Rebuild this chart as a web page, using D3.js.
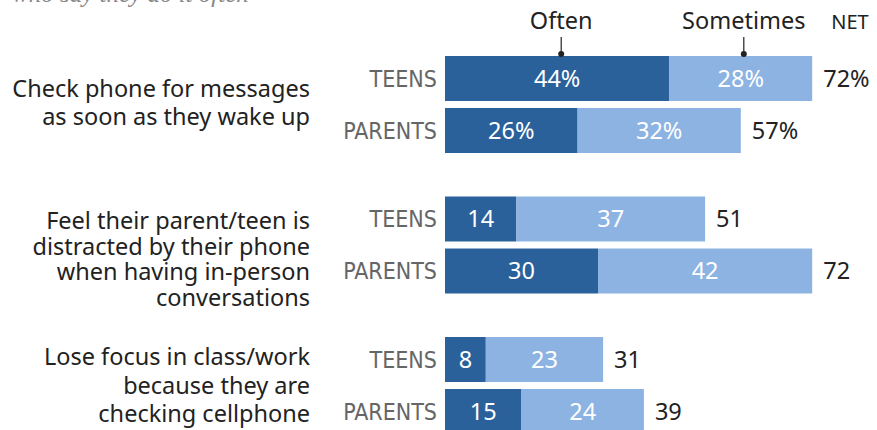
<!DOCTYPE html>
<html>
<head>
<meta charset="utf-8">
<script src="https://cdn.jsdelivr.net/npm/d3@7"></script>
<style>
  body { margin: 0; background: white; }
  svg text { font-family: "Noto Sans", "Liberation Sans", Arial, sans-serif; }
</style>
</head>
<body>
<div id="chart"></div>
<script>

    // Data
    var groups = ["wake", "distracted", "focus"];
    var labelLines = [
      ["Check phone for messages", "as soon as they wake up"],
      ["Feel their parent/teen is", "distracted by their phone", "when having in-person", "conversations"],
      ["Lose focus in class/work", "because they are", "checking cellphone"]
    ];
    var respondents = ["TEENS", "PARENTS"];
    var often = [[44, 26], [14, 30], [8, 15]];
    var sometimes = [[28, 32], [37, 42], [23, 24]];
    var net = [[72, 57], [51, 72], [31, 39]];
    var headers = ["Often", "Sometimes", "NET"];

    //Color Palette
    var darkBlue = "#2a619b";
    var lightBlue = "#8cb3e2";
    var greyText = "#666666";
    var darkText = "#222222";

    const width = 877, height = 430;

    const svg = d3.select("#chart")
      .append("svg")
      .attr("width", width)
      .attr("height", height);

    // cut off subtitle at very top (only the bottom of it shows)
    svg.append("text")
      .attr("x", 12)
      .attr("y", 1.5)
      .style("font-family", "'Liberation Serif', Georgia, serif")
      .style("font-style", "italic")
      .style("font-size", "25px")
      .style("fill", "#888")
      .text("who say they do it often");

    // scales
    const x = d3.scaleLinear().domain([0, 100]).range([445, 955]);
    const yGroup = d3.scalePoint().domain(groups).range([56, 337]);
    const yRow = d3.scaleBand().domain(respondents).range([0, 97]).paddingInner(0.135);

    // flatten rows
    var rows = [];
    groups.forEach(function (g, gi) {
      respondents.forEach(function (r, ri) {
        rows.push({
          group: g, gi: gi, who: r,
          often: often[gi][ri], sometimes: sometimes[gi][ri], net: net[gi][ri],
          pct: gi === 0 ? "%" : ""
        });
      });
    });

    function rowY(d) { return yGroup(d.group) + yRow(d.who); }
    function rowMid(d) { return rowY(d) + yRow.bandwidth() / 2; }

    // Often bars
    svg.selectAll(".often")
      .data(rows)
      .enter()
      .append("rect")
      .attr("x", x(0))
      .attr("y", rowY)
      .attr("width", function (d) { return x(d.often) - x(0); })
      .attr("height", yRow.bandwidth())
      .attr("fill", darkBlue);

    // Sometimes bars
    svg.selectAll(".sometimes")
      .data(rows)
      .enter()
      .append("rect")
      .attr("x", function (d) { return x(d.often); })
      .attr("y", rowY)
      .attr("width", function (d) { return x(d.often + d.sometimes) - x(d.often); })
      .attr("height", yRow.bandwidth())
      .attr("fill", lightBlue);

    // values inside bars
    svg.selectAll(".oftenLabel")
      .data(rows)
      .enter()
      .append("text")
      .attr("x", function (d) { return (x(0) + x(d.often)) / 2; })
      .attr("y", rowMid)
      .attr("dy", "0.36em")
      .attr("text-anchor", "middle")
      .style("fill", "white")
      .style("font-size", "23.5px")
      .text(function (d) { return d.often + d.pct; });

    svg.selectAll(".someLabel")
      .data(rows)
      .enter()
      .append("text")
      .attr("x", function (d) { return (x(d.often) + x(d.often + d.sometimes)) / 2; })
      .attr("y", rowMid)
      .attr("dy", "0.36em")
      .attr("text-anchor", "middle")
      .style("fill", "white")
      .style("font-size", "23.5px")
      .text(function (d) { return d.sometimes + d.pct; });

    // NET values
    svg.selectAll(".netLabel")
      .data(rows)
      .enter()
      .append("text")
      .attr("x", function (d) { return x(d.often + d.sometimes) + 11; })
      .attr("y", rowMid)
      .attr("dy", "0.36em")
      .style("fill", darkText)
      .style("font-size", "23.5px")
      .text(function (d) { return d.net + d.pct; });

    // TEENS / PARENTS
    svg.selectAll(".who")
      .data(rows)
      .enter()
      .append("text")
      .attr("x", x(0) - 8)
      .attr("y", rowMid)
      .attr("dy", "0.36em")
      .attr("text-anchor", "end")
      .style("font-family", "'DejaVu Sans Condensed', 'Liberation Sans Narrow', sans-serif")
      .style("font-stretch", "condensed")
      .style("fill", greyText)
      .style("font-size", "23px")
      .text(function (d) { return d.who; });

    // left item labels
    groups.forEach(function (g, gi) {
      var lines = labelLines[gi];
      var lineH = lines.length > 3 ? 25.5 : 28.5;
      var mid = yGroup(g) + (yRow.range()[1]) / 2;
      if (lines.length > 3) mid += 14; // long label sits a bit lower
      if (gi === 0) mid -= 2;
      var top = mid - (lines.length - 1) * lineH / 2;
      svg.append("g")
        .selectAll("text")
        .data(lines)
        .enter()
        .append("text")
        .attr("x", 310)
        .attr("y", function (d, i) { return top + i * lineH; })
        .attr("dy", "0.36em")
        .attr("text-anchor", "end")
        .style("fill", darkText)
        .style("font-size", "23.5px")
        .text(function (d) { return d; });
    });

    // header with pointers to the first bar
    var first = rows[0];
    var headX = [
      (x(0) + x(first.often)) / 2 + 4,
      (x(first.often) + x(first.often + first.sometimes)) / 2 + 3,
      x(first.often + first.sometimes) + 19
    ];
    svg.selectAll(".head")
      .data(headers)
      .enter()
      .append("text")
      .attr("x", function (d, i) { return headX[i]; })
      .attr("y", 29)
      .attr("text-anchor", function (d, i) { return i < 2 ? "middle" : "start"; })
      .style("fill", darkText)
      .style("font-size", function (d, i) { return i < 2 ? "23.5px" : "20px"; })
      .text(function (d) { return d; });

    svg.selectAll(".tick")
      .data(headX.slice(0, 2))
      .enter()
      .append("line")
      .attr("x1", function (d) { return d; })
      .attr("x2", function (d) { return d; })
      .attr("y1", 37)
      .attr("y2", yGroup(groups[0]) - 2)
      .attr("stroke", "#222")
      .attr("stroke-width", 1.2);

    svg.selectAll(".dot")
      .data(headX.slice(0, 2))
      .enter()
      .append("circle")
      .attr("cx", function (d) { return d; })
      .attr("cy", yGroup(groups[0]) - 2)
      .attr("r", 3)
      .attr("fill", "#222");

</script>
</body>
</html>
